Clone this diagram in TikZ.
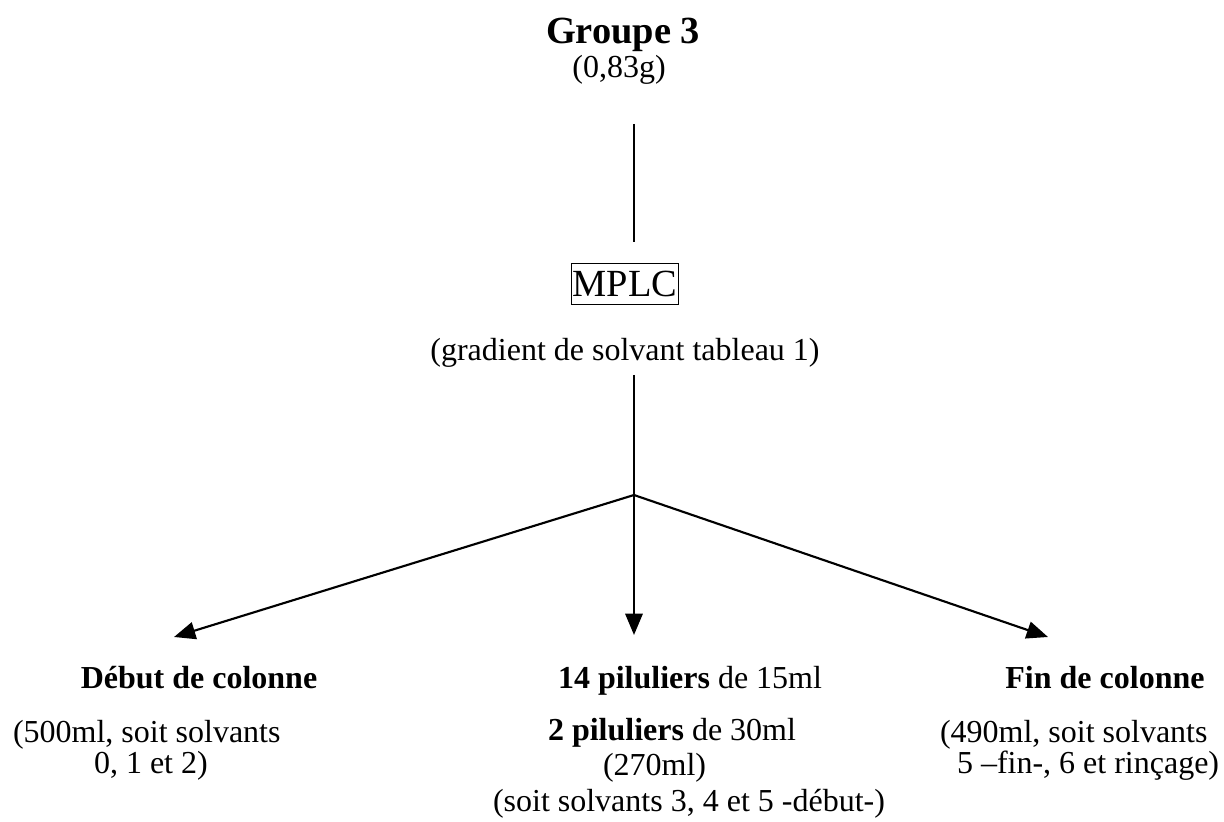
\documentclass[tikz,border=0pt,12pt]{standalone}
\usepackage{fontspec}
\setmainfont{Liberation Serif}
\usetikzlibrary{arrows.meta}

\begin{document}
\begin{tikzpicture}[x=0.375pt, y=-0.375pt,
every node/.style = {inner sep=0pt, outer sep=0pt},
txt/.style = {anchor=base},
txtl/.style = {anchor=base west},
boxed/.style = {draw, line width=0.5pt, inner xsep=0.4pt, inner ysep=1pt,
	font=\large, minimum height=15.4pt},
trunk/.style = {line width=0.5pt},
branch/.style = {line width=0.8pt, -{Triangle[length=8pt,width=6.5pt]}}]

\useasboundingbox (0,0) rectangle (1224,822);

% haut
\node[txt, font=\large\bfseries] (groupe) at (623,43) {Groupe 3};
\node[txt] (masse) at (619,77) {(0,83g)};
\node[boxed] (mplc) at (625,284) {MPLC};
\node[txt] (gradient) at (625,360) {(gradient de solvant tableau 1)};

\coordinate (split) at (634,495);
\coordinate (tipL) at (174,637);
\coordinate (tipM) at (634,635);
\coordinate (tipR) at (1048,637);

\draw[trunk, shorten <=15pt, shorten >=8pt] (masse.south -| split) -- (mplc.north -| split);
\draw[trunk, shorten <=3pt] (gradient.south -| split) -- (split);
\draw[branch] (split) -- (tipL);
\draw[branch] (split) -- (tipM);
\draw[branch] (split) -- (tipR);

% bas gauche
\node[txt, font=\bfseries] (debut) at (199,688) {Début de colonne};
\node[txtl] (debut1) at (13,742) {(500ml, soit solvants};
\node[txtl] (debut2) at (94,773) {0, 1 et 2)};

% bas milieu
\node[txtl] (pil1) at (558,688) {\textbf{14 piluliers} de 15ml};
\node[txtl] (pil2) at (548,740) {\textbf{2 piluliers} de 30ml};
\node[txtl] (pil3) at (603,775) {(270ml)};
\node[txtl] (pil4) at (493,811) {(soit solvants 3, 4 et 5 -début-)};

% bas droite
\node[txt, font=\bfseries] (fin) at (1105,688) {Fin de colonne};
\node[txtl] (fin1) at (940,742) {(490ml, soit solvants};
\node[txtl] (fin2) at (957,773) {5 –fin-, 6 et rinçage)};
\end{tikzpicture}
\end{document}
